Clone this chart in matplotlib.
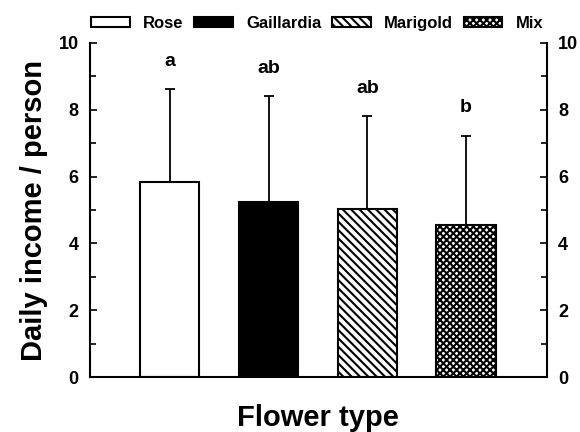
import matplotlib
matplotlib.use("Agg")
import matplotlib.pyplot as plt
from matplotlib.ticker import MultipleLocator
import numpy as np

plt.rcParams['font.family'] = ['Liberation Sans', 'DejaVu Sans']
plt.rcParams['font.weight'] = 'bold'
plt.rcParams['hatch.linewidth'] = 1.5

categories = ["Rose", "Gaillardia", "Marigold", "Mix"]
means = [5.84, 5.24, 5.03, 4.55]
errors = [2.78, 3.17, 2.78, 2.67]
letters = ["a", "ab", "ab", "b"]
yticks = [0, 2, 4, 6, 8, 10]

facecolors = ["white", "black", "white", "white"]
hatches = [None, None, "\\\\\\\\", "xxxxx"]

fig = plt.figure(figsize=(5.8, 4.32), dpi=100)
ax = fig.add_axes([0.155, 0.127, 0.788, 0.7735])

x = np.arange(len(categories))
bars = []
for i in range(len(categories)):
    b = ax.bar(x[i], means[i], width=0.6, color=facecolors[i], edgecolor="black",
               linewidth=1.5, hatch=hatches[i], label=categories[i], zorder=2)
    bars.append(b)
ax.errorbar(x, means, yerr=[np.zeros(len(means)), errors], fmt="none",
            ecolor="black", elinewidth=1.3, capsize=3.5, capthick=1.3, zorder=1)

for i in range(len(categories)):
    ax.annotate(letters[i], (x[i], means[i] + errors[i]), xytext=(0, 14),
                textcoords="offset points", ha="center", va="bottom",
                fontsize=14, fontweight="bold")

ax.set_xlim(-0.81, 3.82)
ax.set_ylim(0, 10)
ax.set_yticks(yticks)
ax.yaxis.set_minor_locator(MultipleLocator(1))
ax.set_xticks([])
ax.tick_params(axis="y", which="both", direction="in", left=True, right=True,
               labelleft=True, labelright=True, labelsize=13, width=1.2, pad=8)
ax.tick_params(axis="y", which="major", length=5)
ax.tick_params(axis="y", which="minor", length=4)
for lab in ax.get_yticklabels():
    lab.set_fontweight("bold")
ax.spines["top"].set_visible(False)
for s in ["left", "right", "bottom"]:
    ax.spines[s].set_linewidth(1.5)

ax.set_ylabel("Daily income / person", fontsize=21, fontweight="bold", labelpad=8)
ax.set_xlabel("Flower type", fontsize=21, fontweight="bold", labelpad=19)

fig.legend(handles=[b[0] for b in bars], labels=categories, loc="center",
           bbox_to_anchor=(0.547, (432 - 23.5) / 432), ncol=4, frameon=False,
           fontsize=12, handlelength=2.3, handleheight=0.56, handletextpad=0.8,
           columnspacing=0.65, borderpad=0, borderaxespad=0)

fig.savefig("out.png", dpi=100)
